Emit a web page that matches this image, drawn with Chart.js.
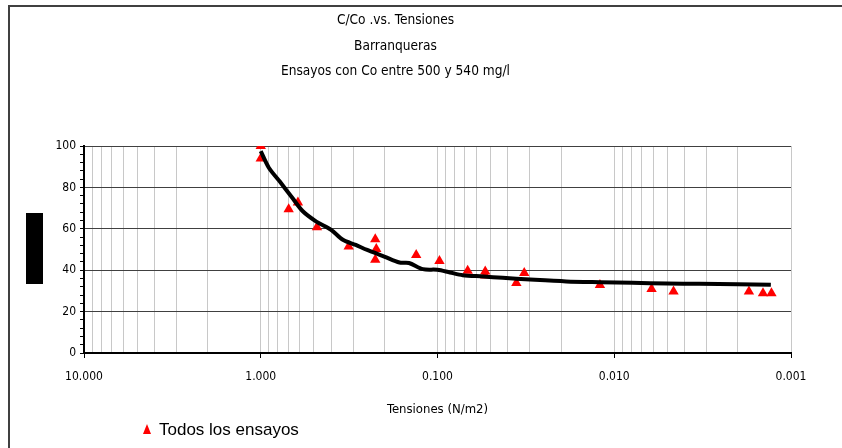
<!DOCTYPE html>
<html>
<head>
<meta charset="utf-8">
<script src="https://cdn.jsdelivr.net/npm/chart.js@4"></script>
<style>
  html, body { margin: 0; padding: 0; background: #fff; }
  #wrap { position: relative; width: 842px; height: 448px; overflow: hidden; }
  #frame { position: absolute; left: 8px; top: 5px; width: 900px; height: 500px; border-left: 2px solid #404040; border-top: 2px solid #404040; }
  canvas { position: absolute; left: 0; top: 0; }
  #ylabel { position: absolute; left: 26px; top: 213px; width: 17px; height: 71px; background: #000; color: #000;
            font: 12px 'DejaVu Sans Condensed', sans-serif; writing-mode: vertical-rl; transform: rotate(180deg);
            text-align: center; overflow: hidden; }
  #legend { position: absolute; left: 143px; top: 420px; font: 17px 'Liberation Sans', Arial, sans-serif; color: #000; }
  #legend .mark { display: inline-block; width: 0; height: 0; border-left: 4px solid transparent; border-right: 4px solid transparent;
                  border-bottom: 10px solid #ff0000; margin-right: 8px; vertical-align: 1px; }
</style>
</head>
<body>
<div id="wrap">
  <div id="frame"></div>
  <canvas id="chart" width="842" height="448"></canvas>
  <div id="ylabel">C/Co (%)</div>
  <div id="legend"><span class="mark"></span>Todos los ensayos</div>
</div>
<script>
// ensayos (puntos)
const ensayosX = [1.0, 1.0, 0.695, 0.616, 0.481, 0.318, 0.225, 0.222, 0.225, 0.132, 0.0975, 0.0675, 0.0537, 0.0537,
                  0.0358, 0.0323, 0.01205, 0.00615, 0.00462, 0.00173, 0.00144, 0.00129];
const ensayosY = [100, 94, 69.5, 72.7, 60.8, 51.4, 55, 50.3, 45, 47.4, 44.5, 39.7, 39.4, 37.5,
                  33.8, 38.6, 32.9, 30.9, 29.7, 29.7, 28.9, 28.9];

// curva de ajuste
const curvaX = [1.0, 0.9, 0.78, 0.67, 0.58, 0.485, 0.40, 0.343, 0.29, 0.25, 0.2, 0.164, 0.145, 0.121, 0.1,
                0.085, 0.072, 0.055, 0.0428, 0.03, 0.0187, 0.012, 0.0079, 0.005, 0.0033, 0.002, 0.0013];
const curvaY = [97.5, 89.5, 82.8, 75.5, 68.6, 63.5, 59.5, 54.7, 52.2, 49.8, 46.6, 43.7, 43.5, 40.5, 40.2,
                38.9, 37.6, 37, 36.3, 35.5, 34.6, 34.2, 33.9, 33.6, 33.4, 33.2, 33.0];

const titulo = ['C/Co .vs. Tensiones', 'Barranqueras', 'Ensayos con Co entre 500 y 540 mg/l'];
const decadas = [0.001, 0.01, 0.1, 1, 10];
const etiquetasX = ['0.001', '0.010', '0.100', '1.000', '10.000'];
const yMax = 100, yMajor = 20, yMinor = 4;

const narrow = "'DejaVu Sans Condensed', 'Liberation Sans Narrow', sans-serif";

function esDecada(v) {
  const l = Math.log10(v);
  return Math.abs(l - Math.round(l)) < 1e-9;
}

// ticks 1..9 por decada para la grilla
const ticksX = [];
decadas.forEach((d, i) => {
  if (i === decadas.length - 1) { ticksX.push(d); return; }
  for (let m = 1; m < 10; m++) ticksX.push(d * m);
});

const ctx = document.getElementById('chart').getContext('2d');
new Chart(ctx, {
  type: 'scatter',
  data: {
    datasets: [
      {
        label: 'Curva',
        data: curvaX.map((x, i) => ({ x: x, y: curvaY[i] })),
        showLine: true,
        borderColor: '#000',
        borderWidth: 4,
        pointRadius: 0,
        tension: 0.3,
        order: 0
      },
      {
        label: 'Todos los ensayos',
        data: ensayosX.map((x, i) => ({ x: x, y: ensayosY[i] })),
        pointStyle: 'triangle',
        pointRadius: 6,
        backgroundColor: '#ff0000',
        borderColor: '#ff0000',
        borderWidth: 0,
        order: 1
      }
    ]
  },
  options: {
    responsive: false,
    animation: false,
    layout: { padding: { left: 0, right: 51, top: 0, bottom: 27 } },
    plugins: {
      legend: { display: false },
      tooltip: { enabled: false },
      title: {
        display: true,
        text: titulo,
        color: '#000',
        font: { family: narrow, size: 13.6, weight: 'normal', lineHeight: '25.5px' },
        padding: { top: 8, bottom: 61.5 }
      }
    },
    scales: {
      x: {
        type: 'logarithmic',
        reverse: true,
        min: 0.001,
        max: 10,
        afterBuildTicks: s => { s.ticks = ticksX.map(v => ({ value: v })); },
        afterFit: s => { s.height = 68; },
        ticks: {
          autoSkip: false,
          maxRotation: 0,
          padding: 12,
          color: '#000',
          font: { family: narrow, size: 12 },
          callback: v => {
            if (!esDecada(v)) return '';
            const i = decadas.findIndex(d => Math.abs(Math.log10(d) - Math.log10(v)) < 1e-9);
            return etiquetasX[i];
          }
        },
        grid: {
          color: '#c8c8c8',
          lineWidth: 1,
          tickLength: 5,
          tickColor: c => esDecada(c.tick.value) ? '#000' : 'rgba(0,0,0,0)'
        },
        border: { color: '#000', width: 2 },
        title: {
          display: true,
          text: 'Tensiones (N/m2)',
          color: '#000',
          font: { family: narrow, size: 13 }
        }
      },
      y: {
        min: 0,
        max: yMax,
        afterFit: s => { s.width = 84; },
        ticks: {
          stepSize: yMinor,
          autoSkip: false,
          padding: 4,
          color: '#000',
          font: { family: narrow, size: 12 },
          callback: v => v % yMajor === 0 ? String(v) : ''
        },
        grid: {
          color: c => c.tick.value % yMajor === 0 ? '#404040' : 'rgba(0,0,0,0)',
          lineWidth: 1,
          tickLength: 4,
          tickColor: '#000'
        },
        border: { color: '#000', width: 2 }
      }
    }
  }
});
</script>
</body>
</html>
